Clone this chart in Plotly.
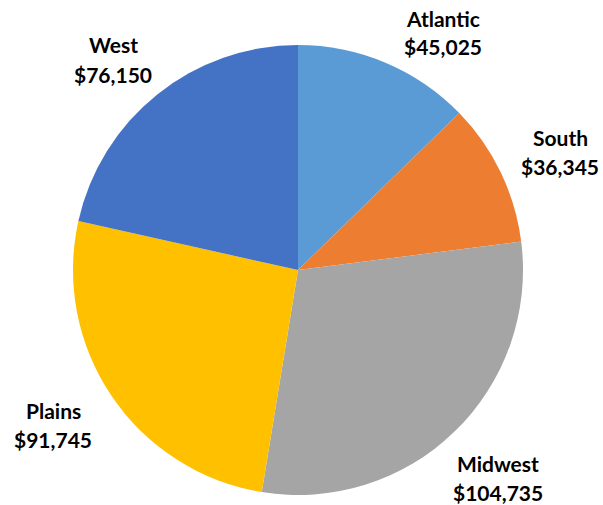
import plotly.graph_objects as go

regions = ["Atlantic", "South", "Midwest", "Plains", "West"]
sales = [45025, 36345, 104735, 91745, 76150]
colors = ["#5B9BD5", "#ED7D31", "#A5A5A5", "#FFC000", "#4472C4"]

W, H = 603, 505
cx, cy, R = 298, 270, 225

# label centres (pixels, top-left origin) for the first line of each label
label_px = [(443, 18), (560, 137), (498, 463), (53, 410), (113, 45)]
line_gap = 29

fig = go.Figure(go.Pie(
    labels=regions, values=sales, sort=False, direction="clockwise", rotation=0,
    marker=dict(colors=colors, line=dict(width=0)),
    textinfo="none", hoverinfo="label+value", showlegend=False,
    domain=dict(x=[(cx - R) / W, (cx + R) / W], y=[1 - (cy + R) / H, 1 - (cy - R) / H]),
))

font = dict(family="Lato, 'Open Sans', sans-serif", size=21, color="#000000")
for name, val, (x, y) in zip(regions, sales, label_px):
    fig.add_annotation(x=x / W, y=1 - y / H, xref="paper", yref="paper", text=f"<b>{name}</b>",
                       showarrow=False, font=font, xanchor="center", yanchor="middle")
    fig.add_annotation(x=x / W, y=1 - (y + line_gap) / H, xref="paper", yref="paper",
                       text=f"<b>${val:,}</b>", showarrow=False, font=font,
                       xanchor="center", yanchor="middle")

fig.update_layout(width=W, height=H, margin=dict(l=0, r=0, t=0, b=0),
                  paper_bgcolor="white", plot_bgcolor="white")
fig.write_html("out.html", config={"displayModeBar": False},
               post_script="document.body.style.margin='0';document.body.style.overflow='hidden';")
